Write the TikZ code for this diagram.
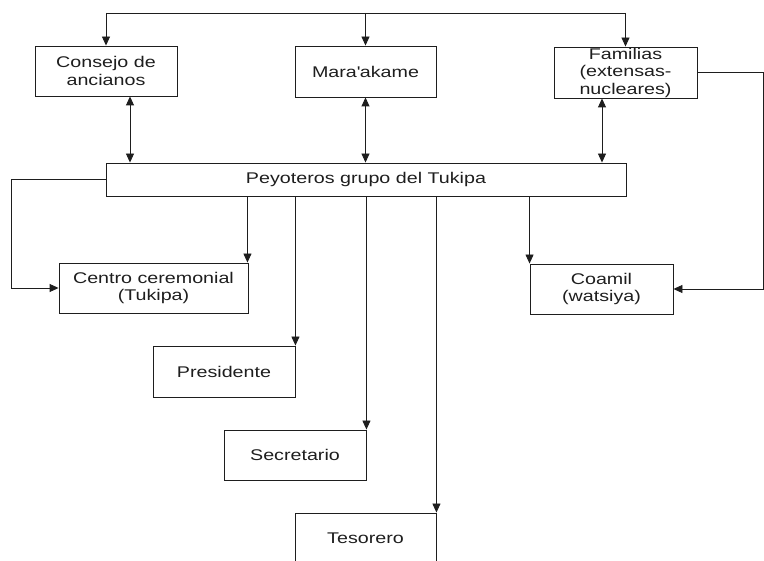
\documentclass[tikz,border=0pt]{standalone}
\usepackage{fontspec}
\setmainfont[FakeStretch=1.27]{Liberation Sans}
\usetikzlibrary{arrows.meta}
\definecolor{ink}{RGB}{30,30,30}
\tikzset{
  box/.style={draw=ink, line width=0.9pt, rectangle, inner sep=0pt, align=center,
    text=ink, font=\fontsize{15.5}{17.5}\selectfont},
  conn/.style={draw=ink, line width=0.9pt},
  arr/.style={conn, -{Triangle[length=9pt,width=8pt]}},
  darr/.style={conn, {Triangle[length=9pt,width=8pt]}-{Triangle[length=9pt,width=8pt]}}
}
\begin{document}
\begin{tikzpicture}[x=1pt,y=-1pt]
\fill[white] (0,0) rectangle (764,561);
\useasboundingbox (0,0) rectangle (764,561);
\clip (0,0) rectangle (764,561);

\node[box, minimum width=142pt, minimum height=50pt] (cons) at (106,71) {Consejo de\\ancianos};
\node[box, minimum width=141pt, minimum height=51pt] (mara) at (365.5,71.5) {Mara\textquotesingle akame};
\node[box, minimum width=143pt, minimum height=51pt] (fam) at (625.5,72.5) {Familias\\(extensas-\\nucleares)};
\node[box, minimum width=520pt, minimum height=33pt] (pey) at (366,179.5) {Peyoteros grupo del Tukipa};
\node[box, minimum width=189pt, minimum height=50pt] (cen) at (153.5,288) {Centro ceremonial\\(Tukipa)};
\node[box, minimum width=143pt, minimum height=50pt] (coa) at (601.5,289) {Coamil\\(watsiya)};
\node[box, minimum width=142pt, minimum height=51pt] (pres) at (224,371.5) {Presidente};
\node[box, minimum width=142pt, minimum height=50pt] (sec) at (295,455) {Secretario};
\node[box, minimum width=141pt, minimum height=50pt] (tes) at (365.5,538) {Tesorero};

\coordinate (tl) at (106,13);
\coordinate (tr) at (625.5,13);
\draw[conn] (tl) -- (tr);
\draw[arr] (tl) -- (cons.north);
\draw[arr] (mara.north |- tl) -- (mara.north);
\draw[arr] (tr) -- (fam.north);

\draw[darr] ([xshift=24pt]cons.south) -- ([xshift=24pt]cons.south |- pey.north);
\draw[darr] (mara.south) -- (mara.south |- pey.north);
\draw[darr] ([xshift=-23.5pt]fam.south) -- ([xshift=-23.5pt]fam.south |- pey.north);

\draw[arr] (pey.west) -- ++(-94,0) |- (cen.west);
\draw[arr] ([xshift=-1pt]pey.south -| cen.north east) -- ([xshift=-1pt]cen.north east);
\draw[arr] (pey.south -| pres.north east) -- (pres.north east);
\draw[arr] (pey.south -| sec.north east) -- (sec.north east);
\draw[arr] (pey.south -| tes.north east) -- (tes.north east);
\draw[arr] (pey.south -| coa.north west) -- (coa.north west);
\draw[arr] (fam.east) -- ++(66,0) |- (coa.east);
\end{tikzpicture}
\end{document}
